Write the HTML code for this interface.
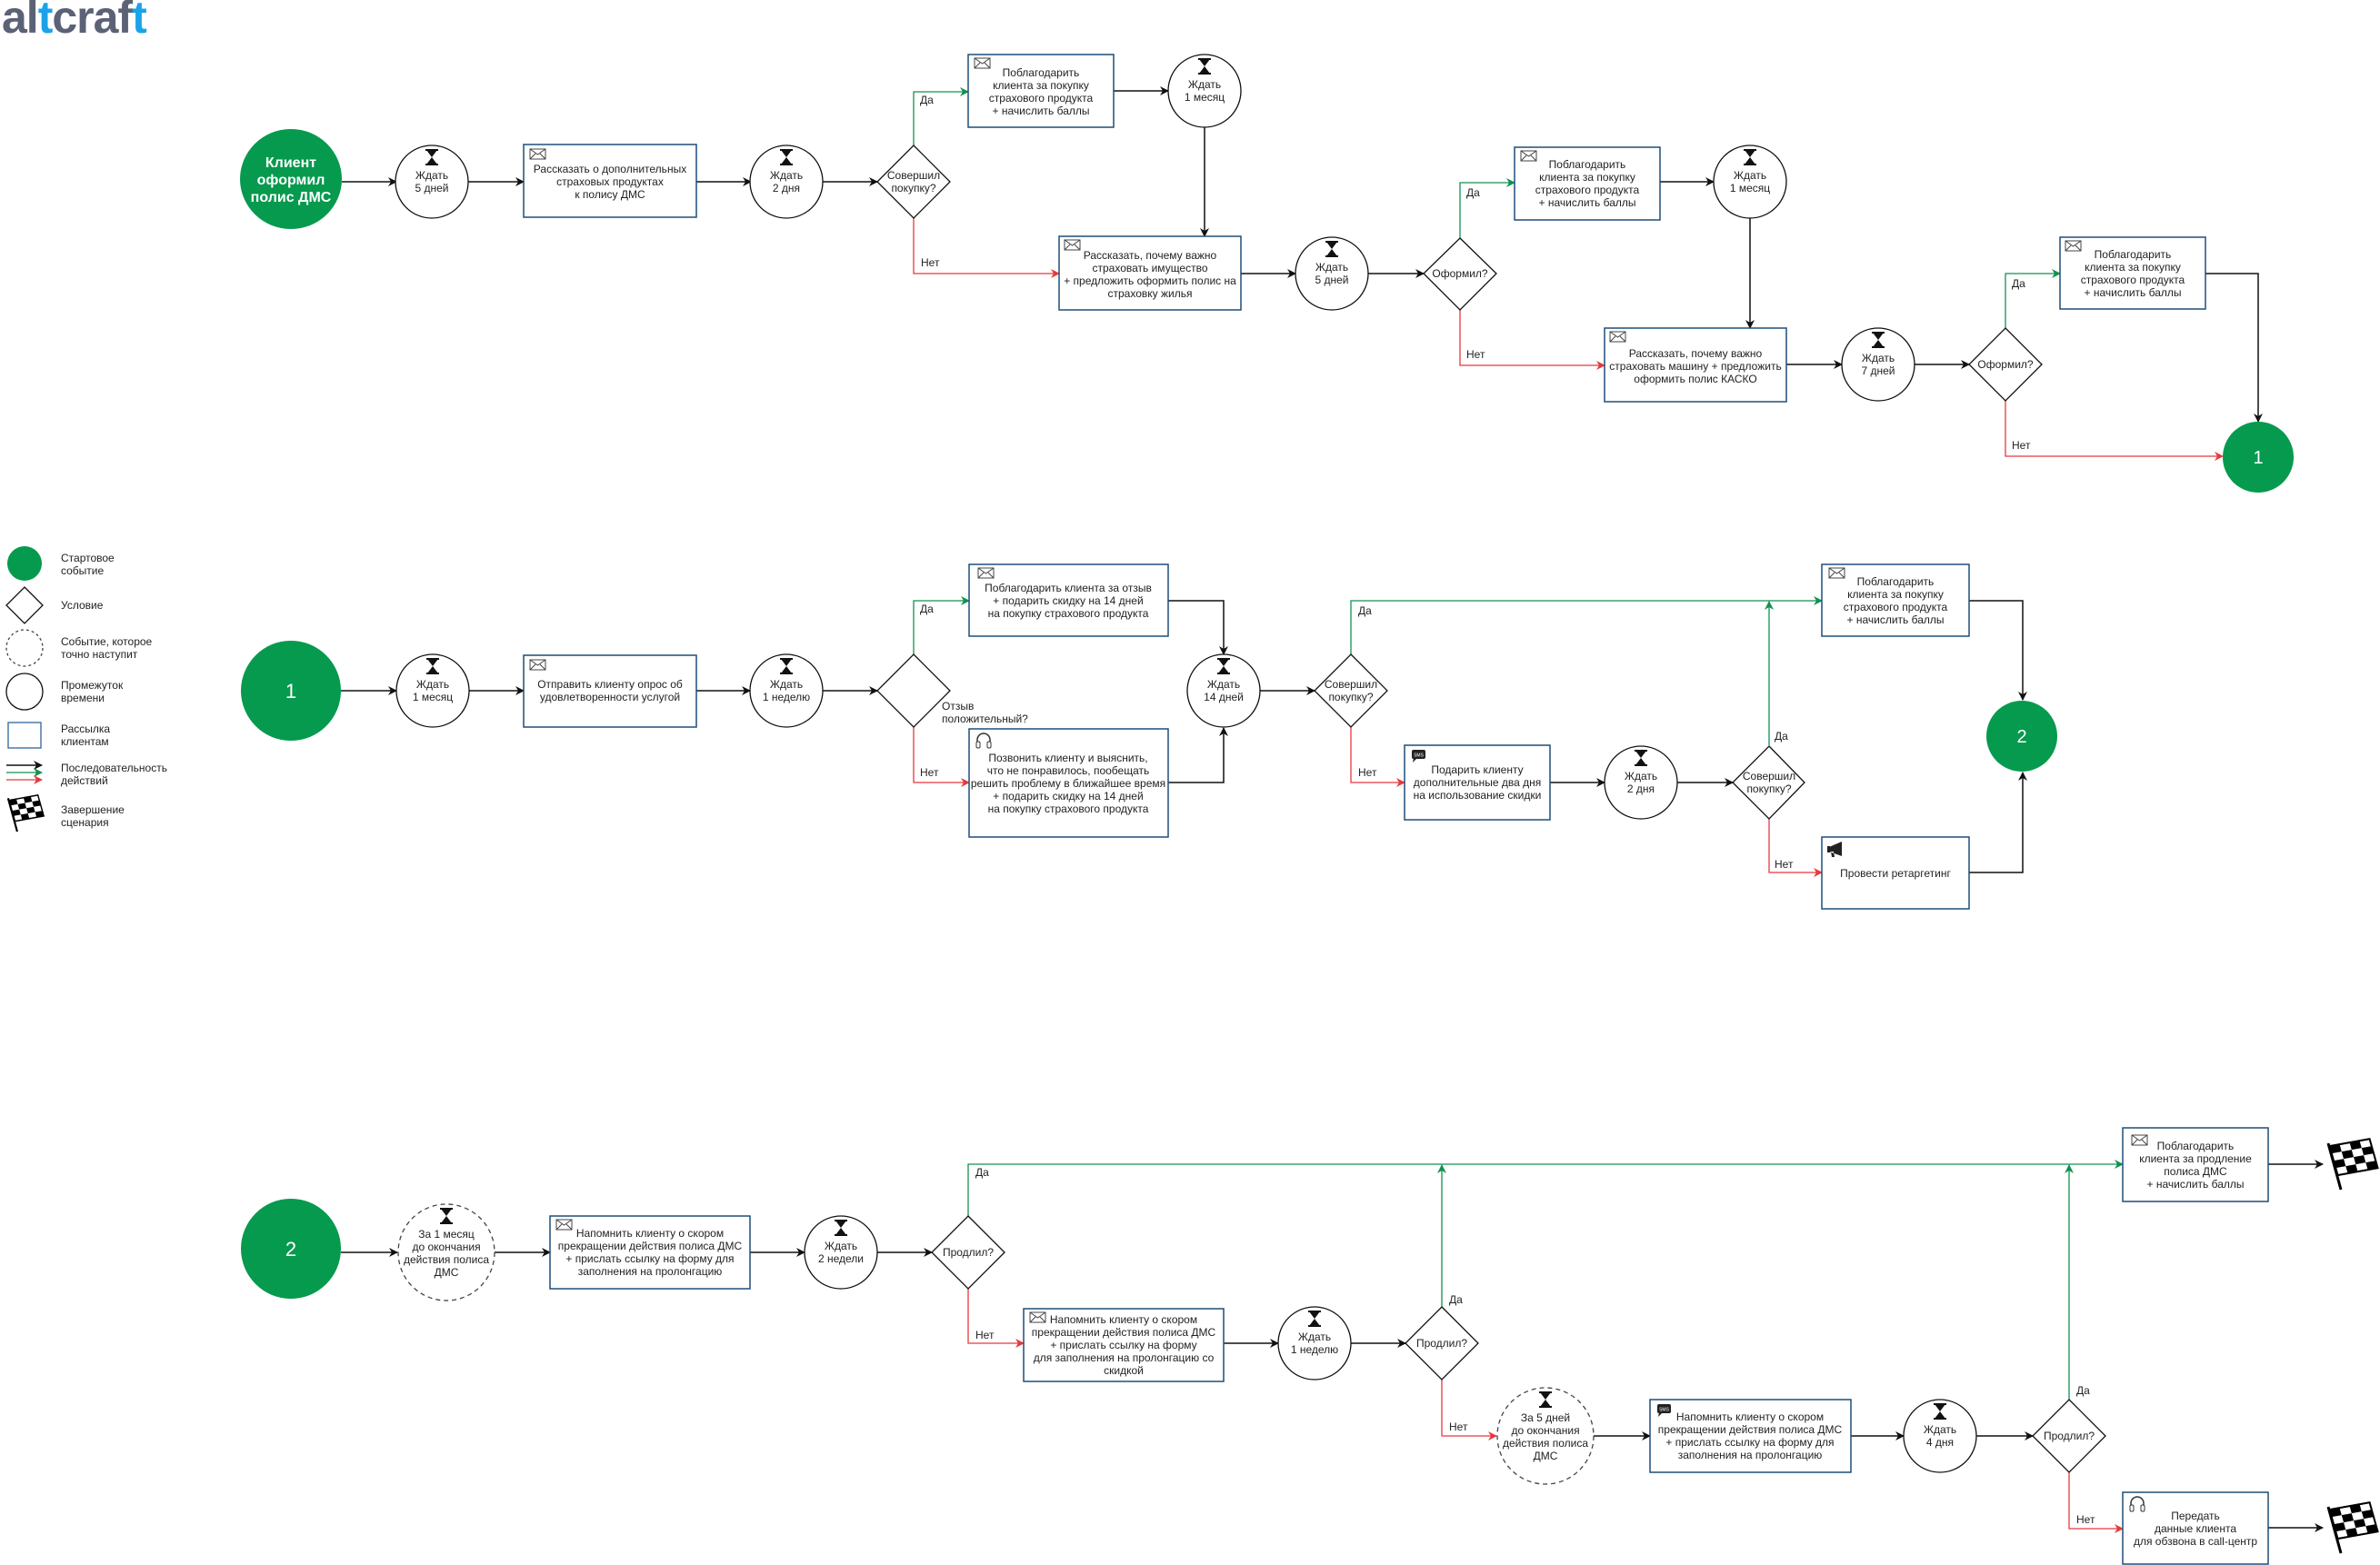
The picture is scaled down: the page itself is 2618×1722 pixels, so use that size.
<!DOCTYPE html>
<html><head><meta charset="utf-8"><style>
html,body{margin:0;padding:0;background:#fff;}
svg{display:block;}
text{font-family:"Liberation Sans","DejaVu Sans",sans-serif;font-size:12px;fill:#222;}
.c{text-anchor:middle;}
.box{fill:#fff;stroke:#1f4e79;stroke-width:1.5;}
.ci{fill:#fff;stroke:#111;stroke-width:1.3;}
.dc{fill:#fff;stroke:#444;stroke-width:1.3;stroke-dasharray:5,4;}
.k{fill:none;stroke:#111;stroke-width:1.5;marker-end:url(#ak);}
.g{fill:none;stroke:#109150;stroke-width:1.3;marker-end:url(#ag);}
.r{fill:none;stroke:#e8383d;stroke-width:1.3;marker-end:url(#ar);}
.gc{fill:#069a4e;}
.w{fill:#fff;}
</style></head><body>
<svg width="2618" height="1722" viewBox="0 0 2618 1722" xmlns="http://www.w3.org/2000/svg">
<defs>
<marker id="ak" markerWidth="10" markerHeight="10" refX="9" refY="5" orient="auto" markerUnits="userSpaceOnUse"><path d="M0,0 L10,5 L0,10 L3,5 z" fill="#111"/></marker>
<marker id="ag" markerWidth="10" markerHeight="10" refX="9" refY="5" orient="auto" markerUnits="userSpaceOnUse"><path d="M0,0 L10,5 L0,10 L3,5 z" fill="#109150"/></marker>
<marker id="ar" markerWidth="10" markerHeight="10" refX="9" refY="5" orient="auto" markerUnits="userSpaceOnUse"><path d="M0,0 L10,5 L0,10 L3,5 z" fill="#e8383d"/></marker>
<g id="hg"><path d="M-6,0 H6 L0,8 L6,16 H-6 L0,8 z" fill="#111"/><rect x="-7" y="-1" width="14" height="2" fill="#111"/><rect x="-7" y="15" width="14" height="2" fill="#111"/></g>
<g id="env"><rect x="0" y="0" width="17" height="11" fill="#fff" stroke="#444" stroke-width="1"/><path d="M0,0 L8.5,6 L17,0 M0,11 L6,5 M17,11 L11,5" fill="none" stroke="#444" stroke-width="1"/></g>
<g id="hs"><path d="M2,12 V8 A7,7 0 0 1 16,8 V12" fill="none" stroke="#333" stroke-width="1.5"/><rect x="1" y="10" width="4" height="7" rx="1.5" fill="#fff" stroke="#333"/><rect x="13" y="10" width="4" height="7" rx="1.5" fill="#fff" stroke="#333"/></g>
<g id="sms"><rect x="0" y="0" width="15" height="10" rx="2" fill="#222"/><path d="M2,9 L1,14 L6,9 z" fill="#222"/><text x="7.5" y="7.5" class="c" style="font-size:5px;fill:#fff">SMS</text></g>
<g id="flag"><line x1="18" y1="57" x2="4" y2="6" stroke="#000" stroke-width="3"/>
<g transform="matrix(1,-0.18,0.28,1,0,8)"><rect x="5" y="2" width="44" height="32" fill="#fff" stroke="#000" stroke-width="2"/>
<rect x="5" y="2" width="11" height="8" fill="#000"/><rect x="27" y="2" width="11" height="8" fill="#000"/><rect x="16" y="10" width="11" height="8" fill="#000"/><rect x="38" y="10" width="11" height="8" fill="#000"/><rect x="5" y="18" width="11" height="8" fill="#000"/><rect x="27" y="18" width="11" height="8" fill="#000"/><rect x="16" y="26" width="11" height="8" fill="#000"/><rect x="38" y="26" width="11" height="8" fill="#000"/></g></g>
</defs>

<!-- logo -->
<text x="2" y="36" style="font-size:50px;font-weight:bold;fill:#5b6276;letter-spacing:-1px">al<tspan style="fill:#1aa3e8">t</tspan>craf<tspan style="fill:#1aa3e8">t</tspan></text>

<!-- legend -->
<circle cx="27" cy="620" r="19" class="gc"/>
<text x="67" y="618">Стартовое</text><text x="67" y="632">событие</text>
<path d="M27,646 L47,666 L27,686 L7,666 z" fill="#fff" stroke="#111" stroke-width="1.3"/>
<text x="67" y="670">Условие</text>
<circle cx="27" cy="713" r="20" class="dc" style="stroke-dasharray:3,3"/>
<text x="67" y="710">Событие, которое</text><text x="67" y="724">точно наступит</text>
<circle cx="27" cy="761" r="20" class="ci"/>
<text x="67" y="758">Промежуток</text><text x="67" y="772">времени</text>
<rect x="9" y="795" width="36" height="28" class="box" style="stroke:#4a78a8"/>
<text x="67" y="806">Рассылка</text><text x="67" y="820">клиентам</text>
<line x1="7" y1="842" x2="46" y2="842" class="k"/>
<line x1="7" y1="850" x2="46" y2="850" class="g"/>
<line x1="7" y1="858" x2="46" y2="858" class="r"/>
<text x="67" y="849">Последовательность</text><text x="67" y="863">действий</text>
<use href="#flag" transform="translate(6,874) scale(0.72)"/>
<text x="67" y="895">Завершение</text><text x="67" y="909">сценария</text>

<!-- ============ SECTION 1 ============ -->
<path d="M376,200 H436" class="k"/>
<path d="M515,200 H576" class="k"/>
<path d="M766,200 H826" class="k"/>
<path d="M905,200 H965" class="k"/>
<path d="M1005,160 V101 H1065" class="g"/>
<path d="M1005,240 V301 H1165" class="r"/>
<path d="M1225,100 H1285" class="k"/>
<path d="M1325,140 V260" class="k"/>
<path d="M1365,301 H1425" class="k"/>
<path d="M1505,301 H1566" class="k"/>
<path d="M1606,262 V201 H1666" class="g"/>
<path d="M1606,341 V402 H1765" class="r"/>
<path d="M1826,200 H1885" class="k"/>
<path d="M1925,240 V361" class="k"/>
<path d="M1965,401 H2026" class="k"/>
<path d="M2106,401 H2166" class="k"/>
<path d="M2206,361 V301 H2266" class="g"/>
<path d="M2206,441 V502 H2445" class="r"/>
<path d="M2426,301 H2484 V464" class="k"/>

<ellipse cx="320" cy="197" rx="56" ry="55" class="gc"/>
<text x="320" y="184" class="c w" style="font-size:16px;font-weight:bold;fill:#fff">Клиент</text>
<text x="320" y="203" class="c" style="font-size:16px;font-weight:bold;fill:#fff">оформил</text>
<text x="320" y="222" class="c" style="font-size:16px;font-weight:bold;fill:#fff">полис ДМС</text>

<circle cx="475" cy="200" r="40" class="ci"/><use href="#hg" x="475" y="165"/>
<text x="475" y="197" class="c">Ждать</text><text x="475" y="211" class="c">5 дней</text>

<rect x="576" y="159" width="190" height="80" class="box"/><use href="#env" x="583" y="164"/>
<text x="671" y="190" class="c">Рассказать о дополнительных</text><text x="671" y="204" class="c">страховых продуктах</text><text x="671" y="218" class="c">к полису ДМС</text>

<circle cx="865" cy="200" r="40" class="ci"/><use href="#hg" x="865" y="165"/>
<text x="865" y="197" class="c">Ждать</text><text x="865" y="211" class="c">2 дня</text>

<path d="M1005,160 L1045,200 L1005,240 L965,200 z" fill="#fff" stroke="#111" stroke-width="1.3"/>
<text x="1005" y="197" class="c">Совершил</text><text x="1005" y="211" class="c">покупку?</text>
<text x="1012" y="114">Да</text><text x="1013" y="293">Нет</text>

<rect x="1065" y="60" width="160" height="80" class="box"/><use href="#env" x="1072" y="64"/>
<text x="1145" y="84" class="c">Поблагодарить</text><text x="1145" y="98" class="c">клиента за покупку</text><text x="1145" y="112" class="c">страхового продукта</text><text x="1145" y="126" class="c">+ начислить баллы</text>

<circle cx="1325" cy="100" r="40" class="ci"/><use href="#hg" x="1325" y="65"/>
<text x="1325" y="97" class="c">Ждать</text><text x="1325" y="111" class="c">1 месяц</text>

<rect x="1165" y="260" width="200" height="81" class="box"/><use href="#env" x="1171" y="264"/>
<text x="1265" y="285" class="c">Рассказать, почему важно</text><text x="1265" y="299" class="c">страховать имущество</text><text x="1265" y="313" class="c">+ предложить оформить полис на</text><text x="1265" y="327" class="c">страховку жилья</text>

<circle cx="1465" cy="301" r="40" class="ci"/><use href="#hg" x="1465" y="266"/>
<text x="1465" y="298" class="c">Ждать</text><text x="1465" y="312" class="c">5 дней</text>

<path d="M1606,262 L1646,301 L1606,341 L1566,301 z" fill="#fff" stroke="#111" stroke-width="1.3"/>
<text x="1606" y="305" class="c">Оформил?</text>
<text x="1613" y="216">Да</text><text x="1613" y="394">Нет</text>

<rect x="1666" y="162" width="160" height="80" class="box"/><use href="#env" x="1673" y="166"/>
<text x="1746" y="185" class="c">Поблагодарить</text><text x="1746" y="199" class="c">клиента за покупку</text><text x="1746" y="213" class="c">страхового продукта</text><text x="1746" y="227" class="c">+ начислить баллы</text>

<circle cx="1925" cy="200" r="40" class="ci"/><use href="#hg" x="1925" y="165"/>
<text x="1925" y="197" class="c">Ждать</text><text x="1925" y="211" class="c">1 месяц</text>

<rect x="1765" y="361" width="200" height="81" class="box"/><use href="#env" x="1771" y="365"/>
<text x="1865" y="393" class="c">Рассказать, почему важно</text><text x="1865" y="407" class="c">страховать машину + предложить</text><text x="1865" y="421" class="c">оформить полис КАСКО</text>

<circle cx="2066" cy="401" r="40" class="ci"/><use href="#hg" x="2066" y="366"/>
<text x="2066" y="398" class="c">Ждать</text><text x="2066" y="412" class="c">7 дней</text>

<path d="M2206,361 L2246,401 L2206,441 L2166,401 z" fill="#fff" stroke="#111" stroke-width="1.3"/>
<text x="2206" y="405" class="c">Оформил?</text>
<text x="2213" y="316">Да</text><text x="2213" y="494">Нет</text>

<rect x="2266" y="261" width="160" height="79" class="box"/><use href="#env" x="2272" y="265"/>
<text x="2346" y="284" class="c">Поблагодарить</text><text x="2346" y="298" class="c">клиента за покупку</text><text x="2346" y="312" class="c">страхового продукта</text><text x="2346" y="326" class="c">+ начислить баллы</text>

<circle cx="2484" cy="503" r="39" class="gc"/>
<text x="2484" y="510" class="c" style="font-size:20px;fill:#fff">1</text>

<!-- ============ SECTION 2 ============ -->
<path d="M375,760 H436" class="k"/>
<path d="M516,760 H576" class="k"/>
<path d="M766,760 H825" class="k"/>
<path d="M905,760 H965" class="k"/>
<path d="M1005,720 V661 H1066" class="g"/>
<path d="M1005,800 V861 H1066" class="r"/>
<path d="M1285,661 H1346 V720" class="k"/>
<path d="M1285,861 H1346 V801" class="k"/>
<path d="M1386,760 H1446" class="k"/>
<path d="M1486,720 V661 H2004" class="g"/>
<path d="M1486,800 V861 H1545" class="r"/>
<path d="M1705,861 H1765" class="k"/>
<path d="M1845,861 H1906" class="k"/>
<path d="M1946,820 V662" class="g"/>
<path d="M1946,900 V960 H2004" class="r"/>
<path d="M2166,661 H2225 V770" class="k"/>
<path d="M2166,960 H2225 V850" class="k"/>

<circle cx="320" cy="760" r="55" class="gc"/>
<text x="320" y="768" class="c" style="font-size:22px;fill:#fff">1</text>

<circle cx="476" cy="760" r="40" class="ci"/><use href="#hg" x="476" y="725"/>
<text x="476" y="757" class="c">Ждать</text><text x="476" y="771" class="c">1 месяц</text>

<rect x="576" y="721" width="190" height="79" class="box"/><use href="#env" x="583" y="726"/>
<text x="671" y="757" class="c">Отправить клиенту опрос об</text><text x="671" y="771" class="c">удовлетворенности услугой</text>

<circle cx="865" cy="760" r="40" class="ci"/><use href="#hg" x="865" y="725"/>
<text x="865" y="757" class="c">Ждать</text><text x="865" y="771" class="c">1 неделю</text>

<path d="M1005,720 L1045,760 L1005,800 L965,760 z" fill="#fff" stroke="#111" stroke-width="1.3"/>
<text x="1036" y="781">Отзыв</text><text x="1036" y="795">положительный?</text>
<text x="1012" y="674">Да</text><text x="1012" y="854">Нет</text>

<rect x="1066" y="621" width="219" height="79" class="box"/><use href="#env" x="1076" y="625"/>
<text x="1175" y="651" class="c">Поблагодарить клиента за отзыв</text><text x="1175" y="665" class="c">+ подарить скидку на 14 дней</text><text x="1175" y="679" class="c">на покупку страхового продукта</text>

<rect x="1066" y="802" width="219" height="119" class="box"/><use href="#hs" x="1073" y="806"/>
<text x="1175" y="838" class="c">Позвонить клиенту и выяснить,</text><text x="1175" y="852" class="c">что не понравилось, пообещать</text><text x="1175" y="866" class="c">решить проблему в ближайшее время</text><text x="1175" y="880" class="c">+ подарить скидку на 14 дней</text><text x="1175" y="894" class="c">на покупку страхового продукта</text>

<circle cx="1346" cy="760" r="40" class="ci"/><use href="#hg" x="1346" y="725"/>
<text x="1346" y="757" class="c">Ждать</text><text x="1346" y="771" class="c">14 дней</text>

<path d="M1486,720 L1526,760 L1486,800 L1446,760 z" fill="#fff" stroke="#111" stroke-width="1.3"/>
<text x="1486" y="757" class="c">Совершил</text><text x="1486" y="771" class="c">покупку?</text>
<text x="1494" y="676">Да</text><text x="1494" y="854">Нет</text>

<rect x="2004" y="621" width="162" height="79" class="box"/><use href="#env" x="2012" y="625"/>
<text x="2085" y="644" class="c">Поблагодарить</text><text x="2085" y="658" class="c">клиента за покупку</text><text x="2085" y="672" class="c">страхового продукта</text><text x="2085" y="686" class="c">+ начислить баллы</text>

<rect x="1545" y="820" width="160" height="82" class="box"/><use href="#sms" x="1553" y="825"/>
<text x="1625" y="851" class="c">Подарить клиенту</text><text x="1625" y="865" class="c">дополнительные два дня</text><text x="1625" y="879" class="c">на использование скидки</text>

<circle cx="1805" cy="861" r="40" class="ci"/><use href="#hg" x="1805" y="826"/>
<text x="1805" y="858" class="c">Ждать</text><text x="1805" y="872" class="c">2 дня</text>

<path d="M1946,821 L1985,861 L1946,901 L1906,861 z" fill="#fff" stroke="#111" stroke-width="1.3"/>
<text x="1946" y="858" class="c">Совершил</text><text x="1946" y="872" class="c">покупку?</text>
<text x="1952" y="814">Да</text><text x="1952" y="955">Нет</text>

<rect x="2004" y="921" width="162" height="79" class="box"/>
<path d="M2012,932 L2026,926 V942 L2012,937 z M2010,931 h3 v7 h-3z M2014,937 l1,6 h3 l-1,-6z" fill="#222"/>
<text x="2085" y="965" class="c">Провести ретаргетинг</text>

<circle cx="2224" cy="810" r="39" class="gc"/>
<text x="2224" y="817" class="c" style="font-size:20px;fill:#fff">2</text>

<!-- ============ SECTION 3 ============ -->
<path d="M375,1378 H437" class="k"/>
<path d="M544,1378 H605" class="k"/>
<path d="M825,1378 H885" class="k"/>
<path d="M965,1378 H1025" class="k"/>
<path d="M1065,1338 V1281 H2335" class="g"/>
<path d="M1065,1418 V1478 H1126" class="r"/>
<path d="M1346,1478 H1406" class="k"/>
<path d="M1486,1478 H1546" class="k"/>
<path d="M1586,1438 V1282" class="g"/>
<path d="M1586,1518 V1580 H1646" class="r"/>
<path d="M1753,1580 H1815" class="k"/>
<path d="M2036,1580 H2094" class="k"/>
<path d="M2174,1580 H2236" class="k"/>
<path d="M2276,1540 V1282" class="g"/>
<path d="M2276,1620 V1682 H2335" class="r"/>
<path d="M2495,1281 H2555" class="k"/>
<path d="M2495,1681 H2555" class="k"/>

<circle cx="320" cy="1374" r="55" class="gc"/>
<text x="320" y="1382" class="c" style="font-size:22px;fill:#fff">2</text>

<circle cx="491" cy="1378" r="53" class="dc"/><use href="#hg" x="491" y="1330"/>
<text x="491" y="1362" class="c">За 1 месяц</text><text x="491" y="1376" class="c">до окончания</text><text x="491" y="1390" class="c">действия полиса</text><text x="491" y="1404" class="c">ДМС</text>

<rect x="605" y="1338" width="220" height="80" class="box"/><use href="#env" x="612" y="1342"/>
<text x="715" y="1361" class="c">Напомнить клиенту о скором</text><text x="715" y="1375" class="c">прекращении действия полиса ДМС</text><text x="715" y="1389" class="c">+ прислать ссылку на форму для</text><text x="715" y="1403" class="c">заполнения на пролонгацию</text>

<circle cx="925" cy="1378" r="40" class="ci"/><use href="#hg" x="925" y="1343"/>
<text x="925" y="1375" class="c">Ждать</text><text x="925" y="1389" class="c">2 недели</text>

<path d="M1065,1338 L1105,1378 L1065,1418 L1025,1378 z" fill="#fff" stroke="#111" stroke-width="1.3"/>
<text x="1065" y="1382" class="c">Продлил?</text>
<text x="1073" y="1294">Да</text><text x="1073" y="1473">Нет</text>

<rect x="1126" y="1440" width="220" height="80" class="box"/><use href="#env" x="1133" y="1444"/>
<text x="1236" y="1456" class="c">Напомнить клиенту о скором</text><text x="1236" y="1470" class="c">прекращении действия полиса ДМС</text><text x="1236" y="1484" class="c">+ прислать ссылку на форму</text><text x="1236" y="1498" class="c">для заполнения на пролонгацию со</text><text x="1236" y="1512" class="c">скидкой</text>

<circle cx="1446" cy="1478" r="40" class="ci"/><use href="#hg" x="1446" y="1443"/>
<text x="1446" y="1475" class="c">Ждать</text><text x="1446" y="1489" class="c">1 неделю</text>

<path d="M1586,1438 L1626,1478 L1586,1518 L1546,1478 z" fill="#fff" stroke="#111" stroke-width="1.3"/>
<text x="1586" y="1482" class="c">Продлил?</text>
<text x="1594" y="1434">Да</text><text x="1594" y="1574">Нет</text>

<circle cx="1700" cy="1580" r="53" class="dc"/><use href="#hg" x="1700" y="1532"/>
<text x="1700" y="1564" class="c">За 5 дней</text><text x="1700" y="1578" class="c">до окончания</text><text x="1700" y="1592" class="c">действия полиса</text><text x="1700" y="1606" class="c">ДМС</text>

<rect x="1815" y="1540" width="221" height="80" class="box"/><use href="#sms" x="1823" y="1545"/>
<text x="1925" y="1563" class="c">Напомнить клиенту о скором</text><text x="1925" y="1577" class="c">прекращении действия полиса ДМС</text><text x="1925" y="1591" class="c">+ прислать ссылку на форму для</text><text x="1925" y="1605" class="c">заполнения на пролонгацию</text>

<circle cx="2134" cy="1580" r="40" class="ci"/><use href="#hg" x="2134" y="1545"/>
<text x="2134" y="1577" class="c">Ждать</text><text x="2134" y="1591" class="c">4 дня</text>

<path d="M2276,1540 L2316,1580 L2276,1620 L2236,1580 z" fill="#fff" stroke="#111" stroke-width="1.3"/>
<text x="2276" y="1584" class="c">Продлил?</text>
<text x="2284" y="1534">Да</text><text x="2284" y="1676">Нет</text>

<rect x="2335" y="1241" width="160" height="81" class="box"/><use href="#env" x="2345" y="1249"/>
<text x="2415" y="1265" class="c">Поблагодарить</text><text x="2415" y="1279" class="c">клиента за продление</text><text x="2415" y="1293" class="c">полиса ДМС</text><text x="2415" y="1307" class="c">+ начислить баллы</text>

<rect x="2335" y="1642" width="160" height="79" class="box"/><use href="#hs" x="2342" y="1646"/>
<text x="2415" y="1672" class="c">Передать</text><text x="2415" y="1686" class="c">данные клиента</text><text x="2415" y="1700" class="c">для обзвона в call-центр</text>

<use href="#flag" x="2557" y="1252"/>
<use href="#flag" x="2557" y="1652"/>
</svg>
</body></html>
